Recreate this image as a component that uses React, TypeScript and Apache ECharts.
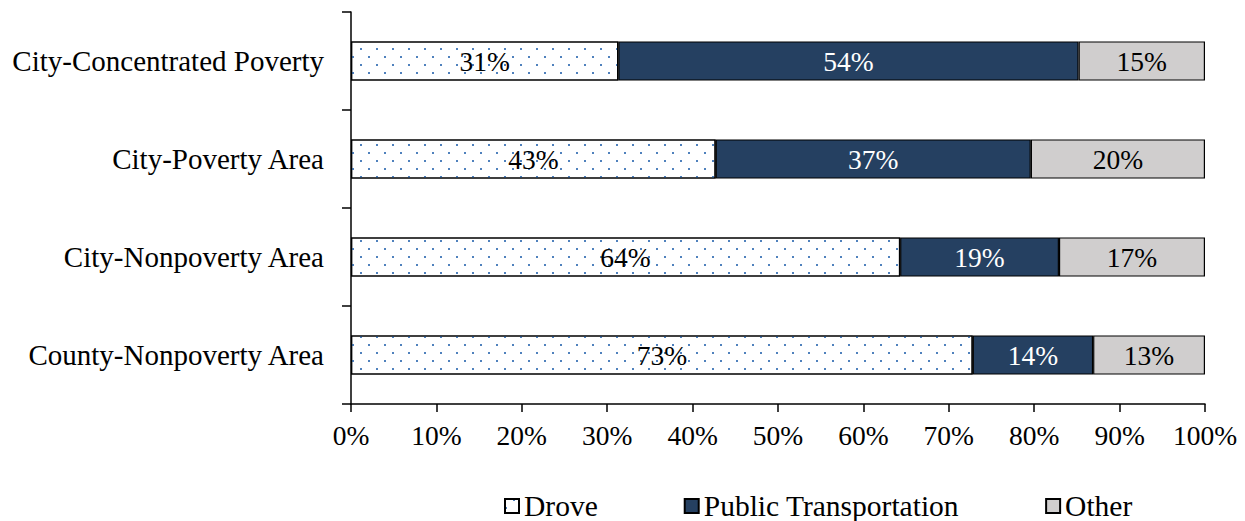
import React, { useEffect, useRef } from "react";
import * as echarts from "echarts";

const categories = [
  "City-Concentrated Poverty",
  "City-Poverty Area",
  "City-Nonpoverty Area",
  "County-Nonpoverty Area",
];
const droveValues = [31.3, 42.7, 64.3, 72.8];
const publicTransportValues = [53.9, 36.9, 18.6, 14.1];
const otherValues = [14.8, 20.4, 17.1, 13.1];
const seriesNames = ["Drove", "Public Transportation", "Other"];
const xTicks = { min: 0, max: 100, interval: 10 };

const FONT = '"Times New Roman", "Liberation Serif", serif';

export default function App() {
  const ref = useRef<HTMLDivElement>(null);
  useEffect(() => {
    document.body.style.margin = "0";
    const chart = echarts.init(ref.current!, null, { renderer: "svg" });
    const labelBase = {
      show: true,
      position: "inside",
      fontFamily: FONT,
      fontSize: 27.5,
      formatter: (p: any) => Math.round(p.value) + "%",
    };
    chart.setOption({
      animation: false,
      grid: { left: 351, top: 12, width: 854, height: 392, containLabel: false },
      legend: {
        left: 504,
        top: 490,
        padding: 0,
        itemWidth: 14,
        itemHeight: 14,
        itemGap: 86,
        icon: "rect",
        textStyle: { fontFamily: FONT, fontSize: 29.5, color: "#000", lineHeight: 32 },
        data: seriesNames,
      },
      xAxis: {
        type: "value",
        min: xTicks.min,
        max: xTicks.max,
        interval: xTicks.interval,
        axisLine: { show: true, lineStyle: { color: "#000", width: 1.5 } },
        axisTick: { show: true, length: 8, lineStyle: { color: "#000", width: 1.5 } },
        splitLine: { show: false },
        axisLabel: {
          formatter: "{value}%",
          fontFamily: FONT,
          fontSize: 27.5,
          color: "#000",
          margin: 17,
        },
      },
      yAxis: {
        type: "category",
        inverse: true,
        data: categories,
        axisLine: { show: true, lineStyle: { color: "#000", width: 1.5 } },
        axisTick: { show: true, length: 9, lineStyle: { color: "#000", width: 1.5 } },
        axisLabel: { fontFamily: FONT, fontSize: 29, color: "#000", margin: 27 },
      },
      series: [
        {
          name: seriesNames[0],
          type: "bar",
          stack: "total",
          barWidth: "40%",
          data: droveValues,
          itemStyle: {
            color: "#ffffff",
            borderColor: "#000",
            borderWidth: 1.2,
            decal: {
              symbol: "rect",
              symbolSize: 1,
              color: "#4F81BD",
              dashArrayX: [
                [2, 14],
                [0, 8, 2, 6],
              ],
              dashArrayY: [2, 6],
              rotation: 0,
            },
          },
          label: { ...labelBase, color: "#000" },
        },
        {
          name: seriesNames[1],
          type: "bar",
          stack: "total",
          data: publicTransportValues,
          itemStyle: { color: "#254061", borderColor: "#000", borderWidth: 1.2 },
          label: { ...labelBase, color: "#fff" },
        },
        {
          name: seriesNames[2],
          type: "bar",
          stack: "total",
          data: otherValues,
          itemStyle: { color: "#D0CECE", borderColor: "#000", borderWidth: 1.2 },
          label: { ...labelBase, color: "#000" },
        },
      ],
    });
    return () => chart.dispose();
  }, []);
  return <div ref={ref} style={{ width: 1245, height: 521 }} />;
}
